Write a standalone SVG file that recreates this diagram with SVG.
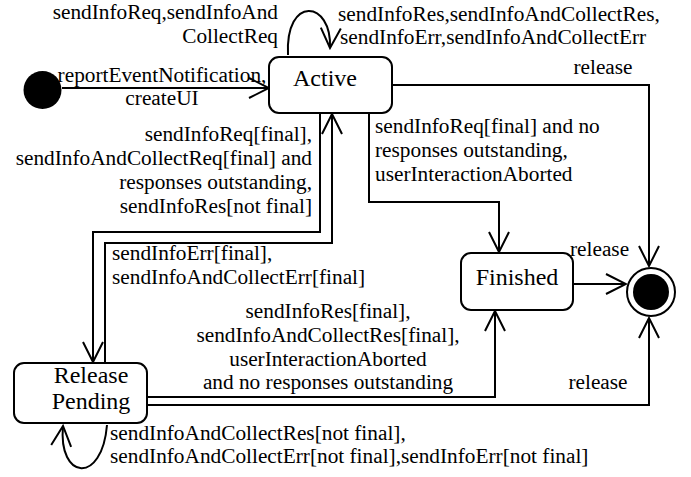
<svg xmlns="http://www.w3.org/2000/svg" width="691" height="477" viewBox="0 0 691 477" font-family="'Liberation Serif', 'DejaVu Serif', serif">
<style>
.st{fill:#fff;stroke:#000;stroke-width:2}
.c{fill:none;stroke:#000;stroke-width:2}
.lb{font-size:21.3px;font-family:'Liberation Serif','DejaVu Serif',serif}
.sn{font-size:24px;text-anchor:middle;font-family:'Liberation Serif','DejaVu Serif',serif}
.m{text-anchor:middle}
.e{text-anchor:end}
</style>
<defs>
<marker id="arr" markerUnits="userSpaceOnUse" viewBox="-22 -12 24 24" refX="0" refY="0" markerWidth="24" markerHeight="24" orient="auto">
<path d="M-20,-10 L0,0 L-20,10" fill="none" stroke="#000" stroke-width="2"/>
</marker>
</defs>
<rect width="691" height="477" fill="#fff"/>
<g id="connectors">
<path class="c" d="M62 88 L269 88" marker-end="url(#arr)"/>
<path class="c" d="M288 55 C285 -5 332 0 330 48" marker-end="url(#arr)"/>
<path class="c" d="M392 85 L649 85 L649 266" marker-end="url(#arr)"/>
<path class="c" d="M369 113 L369 202 L499 202 L499 252" marker-end="url(#arr)"/>
<path class="c" d="M320 113 L320 232 L93 232 L93 362" marker-end="url(#arr)"/>
<path class="c" d="M105 362 L105 243 L332 243 L332 114" marker-end="url(#arr)"/>
<path class="c" d="M573 284 L626 284" marker-end="url(#arr)"/>
<path class="c" d="M147 397 L495 397 L495 311" marker-end="url(#arr)"/>
<path class="c" d="M147 405 L649 405 L649 318" marker-end="url(#arr)"/>
<path class="c" d="M107 425 C102 485 58 480 63 426" marker-end="url(#arr)"/>
</g>
<g id="labels" font-family="'Liberation Serif', 'DejaVu Serif', serif">
<text class="lb e" x="278" y="19">sendInfoReq,sendInfoAnd</text>
<text class="lb e" x="278" y="43">CollectReq</text>
<text class="lb" x="338" y="21">sendInfoRes,sendInfoAndCollectRes,</text>
<text class="lb" x="340" y="44">sendInfoErr,sendInfoAndCollectErr</text>
<text class="lb m" x="162" y="82">reportEventNotification,</text>
<text class="lb m" x="162" y="105">createUI</text>
<text class="lb m" x="603" y="74">release</text>
<text class="lb" x="375" y="133">sendInfoReq[final] and no</text>
<text class="lb" x="375" y="157">responses outstanding,</text>
<text class="lb" x="375" y="181">userInteractionAborted</text>
<text class="lb e" x="312" y="141">sendInfoReq[final],</text>
<text class="lb e" x="312" y="165">sendInfoAndCollectReq[final] and</text>
<text class="lb e" x="312" y="189">responses outstanding,</text>
<text class="lb e" x="312" y="213">sendInfoRes[not final]</text>
<text class="lb" x="112" y="260">sendInfoErr[final],</text>
<text class="lb" x="112" y="284">sendInfoAndCollectErr[final]</text>
<text class="lb" x="570" y="256">release</text>
<text class="lb m" x="328" y="318">sendInfoRes[final],</text>
<text class="lb m" x="328" y="342">sendInfoAndCollectRes[final],</text>
<text class="lb m" x="328" y="366">userInteractionAborted</text>
<text class="lb m" x="328" y="389">and no responses outstanding</text>
<text class="lb m" x="598" y="389">release</text>
<text class="lb" x="110" y="440">sendInfoAndCollectRes[not final],</text>
<text class="lb" x="110" y="463">sendInfoAndCollectErr[not final],sendInfoErr[not final]</text>
</g>
<g id="initial"><circle cx="42.5" cy="90" r="19" fill="#000"/></g>
<g id="active">
<rect class="st" x="269" y="57" width="123" height="56" rx="10"/>
<text class="sn" x="325" y="86">Active</text>
</g>
<g id="finished">
<rect class="st" x="461" y="253" width="112" height="57" rx="10"/>
<text class="sn" x="517" y="285">Finished</text>
</g>
<g id="releasePending">
<rect class="st" x="14" y="363" width="133" height="60" rx="10"/>
<text class="sn" x="91" y="383">Release</text>
<text class="sn" x="91" y="409">Pending</text>
</g>
<g id="final">
<circle cx="651" cy="292" r="24" fill="#fff" stroke="#000" stroke-width="2"/>
<circle cx="651" cy="292" r="18" fill="#000"/>
</g>
</svg>
